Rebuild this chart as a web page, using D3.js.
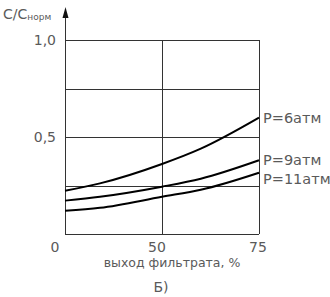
<!DOCTYPE html>
<html><head><meta charset="utf-8">
<script src="https://cdn.jsdelivr.net/npm/d3@7"></script>
<style>body{margin:0;background:#fff}svg{display:block}</style>
</head><body>
<script>
const xTicks = [0, 50, 75];
const xTickLabels = ["0", "50", "75"];
const yTicks = [0.25, 0.5, 0.75, 1.0];
const yTickLabels = ["0,5", "1,0"];
const yTickLabelValues = [0.5, 1.0];
const seriesNames = ["P=6атм", "P=9атм", "P=11атм"];
const xs6 = [0, 18, 50, 60, 75];
const ys6 = [0.223, 0.261, 0.361, 0.44, 0.6];
const xs9 = [0, 18, 50, 60, 75];
const ys9 = [0.172, 0.192, 0.244, 0.285, 0.38];
const xs11 = [0, 18, 50, 60, 75];
const ys11 = [0.12, 0.135, 0.192, 0.228, 0.316];
const yTitle = "C/C";
const yTitleSub = "норм";
const xTitle = "выход фильтрата, %";
const caption = "Б)";

const W = 330, H = 297;
const svg = d3.select("body").append("svg").attr("width", W).attr("height", H);
const x = d3.scaleLinear().domain([0, 50, 75]).range([65, 162, 259]);
const y = d3.scaleLinear().domain([0, 1]).range([234, 40]);
const txt = "#5a5a5a";
const font = "DejaVu Sans";

// grid
const g = svg.append("g").attr("stroke", "#333").attr("stroke-width", 1).attr("shape-rendering", "crispEdges");
yTicks.forEach(v => g.append("line").attr("x1", x(0)).attr("x2", x(75)).attr("y1", Math.round(y(v))+0.5).attr("y2", Math.round(y(v))+0.5));
[50, 75].forEach(v => g.append("line").attr("x1", Math.round(x(v))+0.5).attr("x2", Math.round(x(v))+0.5).attr("y1", y(1)).attr("y2", y(0)));
g.append("line").attr("x1", x(0)).attr("x2", x(75)).attr("y1", y(0)+0.5).attr("y2", y(0)+0.5);
g.append("line").attr("x1", x(0)+0.5).attr("x2", x(0)+0.5).attr("y1", y(0)).attr("y2", 14);
// arrow
svg.append("path").attr("d", `M${x(0)+0.5},7 L${x(0)-2.5},18 L${x(0)+3.5},18 Z`).attr("fill", "#111");

// curves
const line = d3.line().x(d => x(d[0])).y(d => y(d[1])).curve(d3.curveMonotoneX);
[[xs6, ys6], [xs9, ys9], [xs11, ys11]].forEach(([xs, ys]) => {
  svg.append("path").datum(xs.map((v, i) => [v, ys[i]])).attr("d", line)
    .attr("fill", "none").attr("stroke", "#000").attr("stroke-width", 2);
});

// series labels
const labelY = [118, 160, 179];
seriesNames.forEach((n, i) => {
  svg.append("text").attr("x", x(75) + 4).attr("y", labelY[i]).attr("dy", "0.35em")
    .attr("font-family", font).attr("font-size", 14.5).attr("fill", txt).text(n);
});

// y tick labels
yTickLabelValues.forEach((v, i) => {
  svg.append("text").attr("x", 56).attr("y", y(v)).attr("dy", "0.35em").attr("text-anchor", "end")
    .attr("font-family", font).attr("font-size", 14).attr("fill", txt).text(yTickLabels[i]);
});
// x tick labels
const xOff = [-10, -5, -1];
xTicks.forEach((v, i) => {
  svg.append("text").attr("x", x(v) + xOff[i]).attr("y", 247).attr("dy", "0.35em").attr("text-anchor", "middle")
    .attr("font-family", font).attr("font-size", 14).attr("fill", txt).text(xTickLabels[i]);
});
// titles
const yt = svg.append("text").attr("x", 3).attr("y", 19).attr("font-family", font).attr("font-size", 14).attr("fill", txt);
yt.append("tspan").text(yTitle);
yt.append("tspan").attr("font-size", 9).attr("dy", 1).text(yTitleSub);
svg.append("text").attr("x", 172).attr("y", 263).attr("dy", "0.35em").attr("text-anchor", "middle")
  .attr("font-family", font).attr("font-size", 12.5).attr("fill", txt).text(xTitle);
svg.append("text").attr("x", 161).attr("y", 287).attr("dy", "0.35em").attr("text-anchor", "middle")
  .attr("font-family", font).attr("font-size", 14).attr("fill", txt).text(caption);
</script>
</body></html>
